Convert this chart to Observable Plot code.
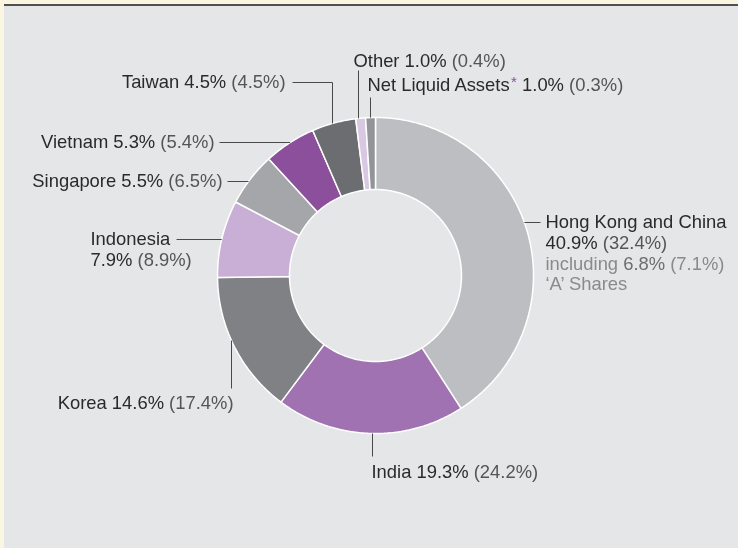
<!DOCTYPE html>
<html><head><meta charset="utf-8">
<script src="https://cdn.jsdelivr.net/npm/d3@7"></script>
<script src="https://cdn.jsdelivr.net/npm/@observablehq/plot@0.6"></script>
<style>
html,body{margin:0;padding:0;background:#fbf6e2;}
body{width:738px;height:548px;position:relative;overflow:hidden;}
#panel{position:fixed;left:4px;top:4px;width:2000px;height:2000px;background:#e5e6e8;border-top:2px solid #505050;}
#chart{position:absolute;left:0;top:0;width:738px;height:548px;}
</style></head><body><div id="panel"></div><div id="chart"></div>
<script>
// ---- data ----
const regions = ["Hong Kong and China","India","Korea","Indonesia","Singapore","Vietnam","Taiwan","Other","Net Liquid Assets"];
const fundPct = [40.9,19.3,14.6,7.9,5.5,5.3,4.5,1.0,1.0];
const benchmarkPct = [32.4,24.2,17.4,8.9,6.5,5.4,4.5,0.4,0.3];
const aSharesFund = 6.8, aSharesBenchmark = 7.1;
const sliceColors = ["#bdbec1","#a072b1","#808184","#c9afd6","#a5a6a9","#8b4f9b","#6c6d70","#d8c8e1","#939497"];

// ---- layout ----
const W = 738, H = 548;
const CX = 375, CY = 275, R_OUT = 158, R_IN = 86;
const FONT = "'Liberation Sans', Arial, Helvetica, sans-serif";
const FS = 18.4, LINE_H = 20.7;
const DARK = "#2a2a2a", MID = "#555555", LIGHT = "#8a8a8a", LIGHT2 = "#6e6e6e", PURPLE = "#8b4f9b";

const pct = v => v.toFixed(1) + "%";

// donut slice polygons (via d3.pie angles)
const pie = d3.pie().sort(null).value(d => d)(fundPct);
const slicePts = [];
pie.forEach((p, i) => {
  const a0 = p.startAngle, a1 = p.endAngle;
  const n = Math.max(3, Math.ceil((a1 - a0) * 80));
  for (let k = 0; k <= n; k++) {
    const a = a0 + (a1 - a0) * k / n;
    slicePts.push({name: regions[i], x: CX + R_OUT * Math.sin(a), y: CY - R_OUT * Math.cos(a)});
  }
  for (let k = n; k >= 0; k--) {
    const a = a0 + (a1 - a0) * k / n;
    slicePts.push({name: regions[i], x: CX + R_IN * Math.sin(a), y: CY - R_IN * Math.cos(a)});
  }
});

// label text lines built from data
function std(i) { return [[{t: regions[i] + " " + pct(fundPct[i]), c: DARK}, {t: "(" + pct(benchmarkPct[i]) + ")", c: MID, gap: true}]]; }
const labelLines = {
  0: [[{t: regions[0], c: DARK}],
      [{t: pct(fundPct[0]), c: DARK}, {t: "(" + pct(benchmarkPct[0]) + ")", c: MID, gap: true}],
      [{t: "including", c: LIGHT}, {t: pct(aSharesFund), c: LIGHT2, gap: true}, {t: "(" + pct(aSharesBenchmark) + ")", c: LIGHT, gap: true}],
      [{t: "\u2018A\u2019 Shares", c: LIGHT}]],
  1: std(1), 2: std(2),
  3: [[{t: regions[3], c: DARK}], [{t: pct(fundPct[3]), c: DARK}, {t: "(" + pct(benchmarkPct[3]) + ")", c: MID, gap: true}]],
  4: std(4), 5: std(5), 6: std(6), 7: std(7),
  8: [[{t: regions[8], c: DARK}, {t: "*", c: PURPLE, sup: true}, {t: pct(fundPct[8]), c: DARK, gap: true}, {t: "(" + pct(benchmarkPct[8]) + ")", c: MID, gap: true}]]
};
// placement: anchor, x, first-line y, leader (type h: horizontal at y from x0; v: vertical at x from y0; e: elbow)
const place = {
  0: {anchor: "start", x: 545, y: 222, leader: {type: "h", y: 222, x0: 540, side: 1}},
  1: {anchor: "start", x: 371, y: 472, leader: {type: "v", x: 372, y0: 456, side: 1}},
  2: {anchor: "end", x: 233, y: 403, leader: {type: "v", x: 231, y0: 388, side: 1}},
  3: {anchor: "start", x: 90, y: 239, leader: {type: "h", y: 239, x0: 176, side: -1}},
  4: {anchor: "end", x: 222, y: 181, leader: {type: "h", y: 181, x0: 227, side: -1}},
  5: {anchor: "end", x: 214, y: 142, leader: {type: "h", y: 142, x0: 219, side: -1}},
  6: {anchor: "end", x: 285, y: 82, leader: {type: "e", y: 82, x0: 292, x: 332, side: -1}},
  7: {anchor: "start", x: 353, y: 61, leader: {type: "v", x: 358, y0: 70, side: -1}},
  8: {anchor: "start", x: 367, y: 85, leader: {type: "v", x: 370, y0: 97, side: -1}}
};

const ctx = document.createElement("canvas").getContext("2d");
function measure(t, size) { ctx.font = size + "px " + FONT; return ctx.measureText(t).width; }
const SUP_FS = 15;
const segs = [];
Object.keys(labelLines).forEach(k => {
  const p = place[k];
  labelLines[k].forEach((line, li) => {
    const widths = line.map(s => measure(s.t, s.sup ? SUP_FS : FS));
    const sp = measure(" ", FS);
    let total = 0;
    line.forEach((s, j) => { total += (s.gap ? sp : 0) + widths[j]; });
    let x = p.anchor === "end" ? p.x - total : p.x;
    const y = p.y + li * LINE_H;
    line.forEach((s, j) => {
      if (s.gap) x += sp;
      segs.push({t: s.t, x: s.sup ? x + 0.5 : x, y: s.sup ? y - 3 : y, c: s.c, sup: !!s.sup});
      x += widths[j] + (s.sup ? 0.5 : 0);
    });
  });
});

// leader lines
const leaders = [];
Object.keys(place).forEach(k => {
  const L = place[k].leader;
  if (L.type === "h") {
    const ex = CX + L.side * Math.sqrt(R_OUT * R_OUT - (L.y - CY) ** 2);
    leaders.push({id: k, x: L.x0, y: L.y}, {id: k, x: ex, y: L.y});
  } else if (L.type === "v") {
    const ey = CY + L.side * Math.sqrt(R_OUT * R_OUT - (L.x - CX) ** 2);
    leaders.push({id: k, x: L.x, y: L.y0}, {id: k, x: L.x, y: ey});
  } else {
    const ey = CY + L.side * Math.sqrt(R_OUT * R_OUT - (L.x - CX) ** 2);
    leaders.push({id: k, x: L.x0, y: L.y}, {id: k, x: L.x, y: L.y}, {id: k, x: L.x, y: ey});
  }
});

const textMarks = [DARK, MID, LIGHT, LIGHT2].map(col =>
  Plot.text(segs.filter(s => s.c === col && !s.sup), {x: "x", y: "y", text: "t", textAnchor: "start", lineAnchor: "middle", fill: col, fontSize: FS, fontFamily: FONT}));
textMarks.push(Plot.text(segs.filter(s => s.sup), {x: "x", y: "y", text: "t", textAnchor: "start", lineAnchor: "middle", fill: PURPLE, fontSize: SUP_FS, fontFamily: FONT}));

const chart = Plot.plot({
  width: W, height: H,
  marginTop: 0, marginRight: 0, marginBottom: 0, marginLeft: 0,
  x: {domain: [0, W], range: [0, W], axis: null},
  y: {domain: [0, H], range: [0, H], axis: null},
  color: {domain: regions, range: sliceColors},
  style: {background: "transparent", overflow: "visible"},
  marks: [
    Plot.line(slicePts, {x: "x", y: "y", z: "name", fill: "name", stroke: "white", strokeWidth: 1.5, curve: "linear-closed", strokeLinejoin: "miter"}),
    Plot.line(leaders, {x: "x", y: "y", z: "id", stroke: "#4a4a4a", strokeWidth: 1, strokeLinecap: "butt", strokeLinejoin: "miter"}),
    ...textMarks
  ]
});
document.getElementById("chart").appendChild(chart);
</script>
</body></html>
